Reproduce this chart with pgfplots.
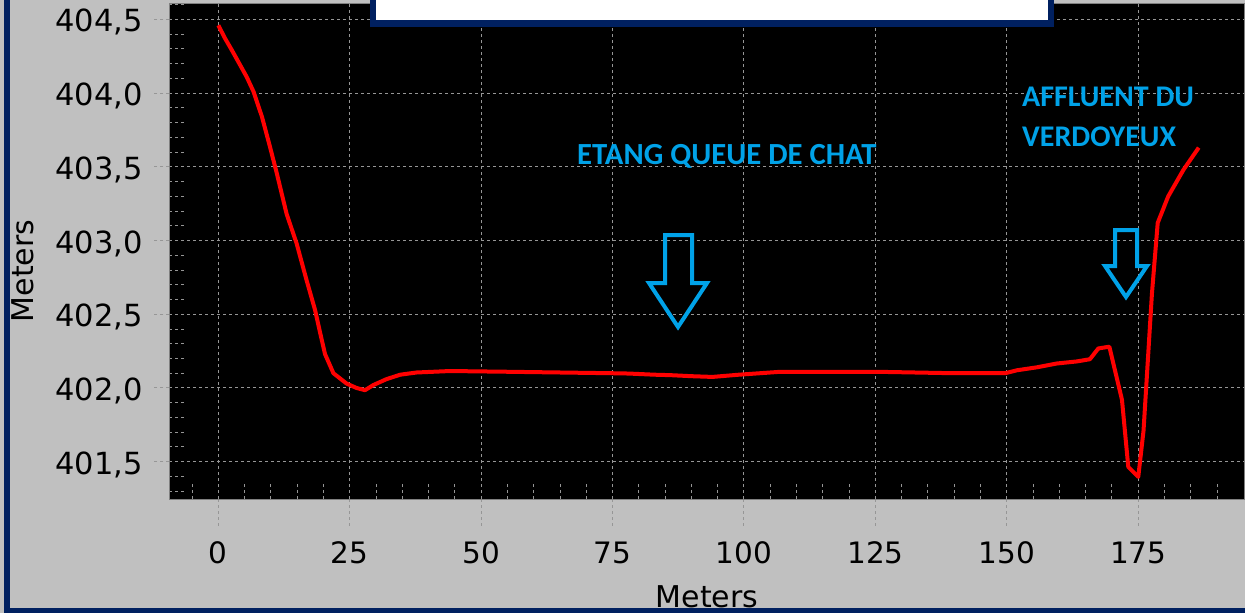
\documentclass[border=0pt]{standalone}
\usepackage{pgfplots}
\pgfplotsset{compat=1.18}
\usepackage{fontspec}
\setmainfont{DejaVu Sans}
\newfontfamily\annotfont{Carlito}
\definecolor{bggrey}{RGB}{192,192,192}
\definecolor{gridgrey}{RGB}{150,150,150}
\definecolor{navyb}{RGB}{0,32,96}
\definecolor{annot}{RGB}{0,162,232}
\begin{document}
\begin{tikzpicture}
\useasboundingbox (0pt,0pt) rectangle (1245pt,-613pt);
\fill[bggrey] (0pt,0pt) rectangle (1245pt,-613pt);
\begin{scope}[x=1pt,y=1pt]
\foreach \px in {218.3,349.7,481.1,612.5,743.9,875.3,1006.7,1138.1}{
  \draw[gridgrey, line width=1pt, dash pattern=on 3pt off 3pt] (\px,-499) -- (\px,-527);
}
\foreach \py in {19.3,93.0,166.7,240.4,314.1,387.8,461.5}{
  \draw[gridgrey, line width=1pt, dash pattern=on 3pt off 3pt] (169.3,-\py) -- (154,-\py);
}
\end{scope}
\begin{axis}[
  at={(169.3pt,-499pt)}, anchor=south west,
  scale only axis, width=1075.7pt, height=495.7pt,
  xmin=-9.32, xmax=195.3, ymin=401.247, ymax=404.609,
  axis background/.style={fill=black},
  axis line style={draw=gray, line width=1pt},
  xtick={0,25,...,175},
  xticklabels={0,25,50,75,100,125,150,175},
  ytick={401.5,402.0,402.5,403.0,403.5,404.0,404.5},
  yticklabels={{401,5},{402,0},{402,5},{403,0},{403,5},{404,0},{404,5}},
  minor xtick={-5,5,10,15,20,30,35,40,45,55,60,65,70,80,85,90,95,105,110,115,120,130,135,140,145,155,160,165,170,180,185,190},
  minor ytick={401.3,401.4,401.6,401.7,401.8,401.9,402.1,402.2,402.3,402.4,402.6,402.7,402.8,402.9,403.1,403.2,403.3,403.4,403.6,403.7,403.8,403.9,404.1,404.2,404.3,404.4,404.6},
  xtick pos=bottom, ytick pos=left,
  tick align=inside,
  major tick length=0pt,
  minor tick length=16pt,
  minor tick style={draw=gridgrey, line width=1pt, dash pattern=on 3pt off 3pt},
  major grid style={draw=gridgrey, line width=1pt, dash pattern=on 3pt off 3pt},
  grid=major,
  tick label style={font=\fontsize{29.5}{34}\selectfont, text=black},
  xticklabel style={yshift=-39.5pt},
  yticklabel style={xshift=-23pt, yshift=-3pt, font=\fontsize{30.5}{34}\selectfont},
]
\addplot[red, line width=4pt, line join=round] coordinates {
(0,404.46) (1.3,404.37) (2.6,404.29) (5.4,404.11) (6.7,404.01) (8.3,403.84)
(9.8,403.64) (11.1,403.46) (13.0,403.18) (14.9,402.98) (16.8,402.73) (18.4,402.53)
(19.4,402.37) (20.3,402.23) (21.9,402.10) (24.4,402.03) (26.3,402.00) (27.9,401.985)
(29.5,402.02) (32.0,402.06) (34.6,402.09) (37.7,402.105) (40.9,402.11) (44.1,402.115)
(55,402.11) (65,402.105) (75,402.10) (78,402.098) (83,402.09) (86,402.087)
(90,402.08) (94,402.075) (99,402.09) (107,402.11) (125,402.11) (140,402.10)
(149.7,402.10) (151.9,402.12) (155.7,402.14) (159.5,402.166) (163.3,402.18) (165.8,402.195)
(167.4,402.268) (169.5,402.28) (171.9,401.92) (173.1,401.465) (175.0,401.397) (176.0,401.71)
(177.6,402.64) (178.7,403.12) (180.7,403.30) (183.6,403.48) (186.5,403.63)
};
\end{axis}
\begin{scope}[x=1pt,y=1pt]
% axis titles
\node[anchor=base, inner sep=0pt, font=\fontsize{30}{36}\selectfont] at (707,-607.3) {Meters};
\node[anchor=base, rotate=90, inner sep=0pt, font=\fontsize{30}{36}\selectfont] at (33,-271) {Meters};
% annotations
\node[anchor=base west, inner sep=0pt, text=annot, font=\annotfont\bfseries\fontsize{30.7}{36}\selectfont] at (577,-164) {ETANG QUEUE DE CHAT};
\node[anchor=base west, inner sep=0pt, text=annot, font=\annotfont\bfseries\fontsize{30}{36}\selectfont] at (1022,-106.7) {AFFLUENT DU};
\node[anchor=base west, inner sep=0pt, text=annot, font=\annotfont\bfseries\fontsize{30}{36}\selectfont] at (1022,-146) {VERDOYEUX};
\draw[annot, line width=4pt, line join=miter] (665,-235) -- (692,-235) -- (692,-283) -- (707,-283) -- (678,-327) -- (649,-283) -- (665,-283) -- cycle;
\draw[annot, line width=4pt, line join=miter] (1115,-230) -- (1137,-230) -- (1137,-266) -- (1147,-266) -- (1126,-297) -- (1105,-266) -- (1115,-266) -- cycle;
% white box at top
\filldraw[fill=white, draw=navyb, line width=6.5pt] (373.2,10) rectangle (1050.8,-23.5);
% outer frame
\draw[navyb, line width=6pt] (7,10) -- (7,-610.5) -- (1260,-610.5);
\end{scope}
\end{tikzpicture}
\end{document}
